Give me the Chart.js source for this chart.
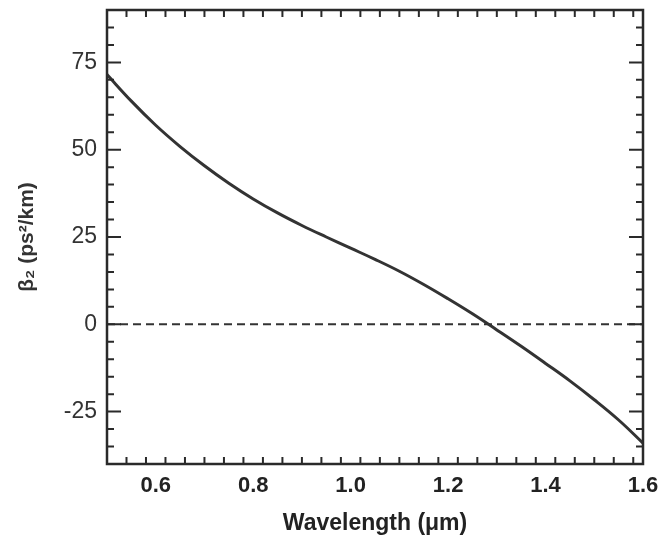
<!DOCTYPE html>
<html>
<head>
<meta charset="utf-8">
<script src="https://cdn.jsdelivr.net/npm/chart.js@4/dist/chart.umd.min.js"></script>
<style>
  html, body { margin: 0; padding: 0; background: #fff; }
  #wrap { width: 658px; height: 540px; }
</style>
</head>
<body>
<div id="wrap"><canvas id="c" width="658" height="540"></canvas></div>
<script>
// ---- data ----
const wavelength = [0.5, 0.55, 0.6, 0.65, 0.7, 0.75, 0.8, 0.85, 0.9, 0.95, 1.0, 1.05, 1.1, 1.15, 1.2, 1.25, 1.3, 1.35, 1.4, 1.45, 1.5, 1.55, 1.6];
const beta2 = [71.5, 63.9, 57.0, 50.9, 45.4, 40.4, 35.9, 31.9, 28.3, 25.0, 21.8, 18.6, 15.2, 11.4, 7.3, 3.0, -1.6, -6.3, -11.2, -16.2, -21.6, -27.4, -34.0];
const zeroLineX = [0.5, 1.6];
const zeroLineY = [0, 0];
const xTickValues = [0.6, 0.8, 1.0, 1.2, 1.4, 1.6];
const xTickLabels = ['0.6', '0.8', '1.0', '1.2', '1.4', '1.6'];
const yTickValues = [-25, 0, 25, 50, 75];
const yTickLabels = ['-25', '0', '25', '50', '75'];
const xMinorStep = 0.04;
const yMinorStep = 5;
const xRange = [0.5, 1.6];
const yRange = [-40, 90];

const INK = '#2a2a2a';

const frameTicks = {
  id: 'frameTicks',
  afterDatasetsDraw(chart) {
    const { ctx, chartArea: a, scales: { x, y } } = chart;
    ctx.save();
    ctx.strokeStyle = INK;
    ctx.lineWidth = 2;
    const xs = [];
    for (let v = xRange[0]; v <= xRange[1] + 1e-9; v += xMinorStep) xs.push(+v.toFixed(3));
    xs.forEach(v => {
      const major = xTickValues.some(t => Math.abs(t - v) < 1e-6);
      const len = major ? 13 : 7;
      const px = x.getPixelForValue(v);
      ctx.beginPath();
      ctx.moveTo(px, a.bottom); ctx.lineTo(px, a.bottom - len);
      ctx.moveTo(px, a.top); ctx.lineTo(px, a.top + len);
      ctx.stroke();
    });
    for (let v = yRange[0]; v <= yRange[1] + 1e-9; v += yMinorStep) {
      const major = yTickValues.includes(v);
      const len = major ? 14 : 7;
      const py = y.getPixelForValue(v);
      ctx.beginPath();
      ctx.moveTo(a.left, py); ctx.lineTo(a.left + len, py);
      ctx.moveTo(a.right, py); ctx.lineTo(a.right - len, py);
      ctx.stroke();
    }
    ctx.lineWidth = 2.5;
    ctx.strokeRect(a.left, a.top, a.right - a.left, a.bottom - a.top);
    ctx.restore();
  }
};

new Chart(document.getElementById('c'), {
  type: 'line',
  data: {
    datasets: [
      {
        data: wavelength.map((w, i) => ({ x: w, y: beta2[i] })),
        borderColor: '#333',
        borderWidth: 3,
        pointRadius: 0,
        tension: 0.4,
        fill: false
      },
      {
        data: zeroLineX.map((w, i) => ({ x: w, y: zeroLineY[i] })),
        borderColor: '#333',
        borderWidth: 2,
        borderDash: [8, 5],
        pointRadius: 0,
        fill: false
      }
    ]
  },
  options: {
    responsive: false,
    animation: false,
    layout: { padding: { top: 10, right: 15, left: 0, bottom: 0 } },
    plugins: { legend: { display: false }, tooltip: { enabled: false } },
    scales: {
      x: {
        type: 'linear',
        min: xRange[0], max: xRange[1],
        afterBuildTicks: s => { s.ticks = xTickValues.map(v => ({ value: v })); },
        afterFit: s => { s.height = 76; s.paddingLeft = 0; s.paddingRight = 0; },
        grid: { display: false, drawTicks: false },
        border: { display: false },
        ticks: {
          padding: 9,
          color: '#222',
          font: { family: 'Liberation Sans, Arial, sans-serif', size: 22, weight: 'bold' },
          maxRotation: 0,
          callback: (v) => xTickLabels[xTickValues.findIndex(t => Math.abs(t - v) < 1e-6)]
        },
        title: {
          display: true,
          text: 'Wavelength (μm)',
          color: '#222',
          font: { family: 'Liberation Sans, Arial, sans-serif', size: 23, weight: 'bold' },
          padding: { top: 0, bottom: 3 }
        }
      },
      y: {
        type: 'linear',
        min: yRange[0], max: yRange[1],
        afterBuildTicks: s => { s.ticks = yTickValues.map(v => ({ value: v })); },
        afterFit: s => { s.width = 107; s.paddingTop = 0; s.paddingBottom = 0; },
        grid: { display: false, drawTicks: false },
        border: { display: false },
        ticks: {
          padding: 10,
          color: '#333',
          font: { family: 'Liberation Sans, Arial, sans-serif', size: 23 },
          callback: (v) => yTickLabels[yTickValues.indexOf(v)]
        },
        title: {
          display: true,
          text: 'β₂ (ps²/km)',
          color: '#333',
          font: { family: 'Liberation Sans, Arial, sans-serif', size: 21, weight: 'bold' },
          padding: { top: 15, bottom: 0 }
        }
      }
    }
  },
  plugins: [frameTicks]
});
</script>
</body>
</html>
